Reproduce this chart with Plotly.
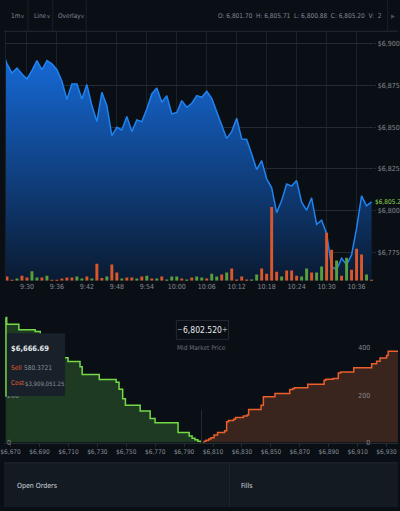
import plotly.graph_objects as go
import pandas as pd

# ---------------- data ----------------
price_times = pd.date_range("2018-06-20 09:25", "2018-06-20 10:39", freq="1min")
price = [6897, 6888, 6882.6, 6885.5, 6882, 6879, 6884, 6890, 6884.5, 6890,
         6888, 6884.5, 6877.6, 6866.7, 6876, 6876, 6867, 6875.6, 6863, 6853.4,
         6871, 6863, 6845, 6850, 6848.4, 6856.4, 6847.4, 6854.4, 6853.4, 6861,
         6870, 6873.6, 6865, 6869, 6858, 6858.8, 6866, 6862, 6864.3, 6869,
         6868, 6871.6, 6867.3, 6859.3, 6851.2, 6843.3, 6847.4, 6855.4, 6843, 6842.7,
         6834, 6824.6, 6830, 6819, 6813.7, 6798.8, 6806, 6816, 6814.7, 6818,
         6805, 6800.2, 6807.7, 6791.7, 6794.2, 6786.3, 6766.5, 6764.5, 6771.4, 6767.4,
         6773.4, 6789.3, 6808.8, 6802.8, 6805.2]

volume_times = price_times[1:]
volume = [11, 2, 6, 13, 8, 24, 8, 8, 13, 2, 2, 6, 8, 8, 11, 6, 11, 6, 43, 7,
          11, 41, 21, 6, 8, 8, 6, 11, 13, 6, 6, 11, 3, 11, 11, 6, 3, 8, 11, 8,
          6, 18, 11, 16, 21, 31, 3, 11, 3, 3, 16, 31, 18, 186, 23, 11, 26, 26, 13, 11,
          31, 21, 21, 36, 121, 78, 51, 13, 58, 28, 81, 66, 16, 2]
volume_side = list("ddudduudud" "dddduudud" "dudduddudu" "duduuudud" "uuduud"
                   "uddddu" "uddddu" "dddu" "uduudd" "ududddud" "uuudu")

bid_price = [6666.6, 6667.3, 6675.7, 6687.0, 6690.5, 6694.0, 6697.5, 6700.5, 6702.9,
             6704.0, 6709.7, 6718.0, 6719.5, 6731.3, 6743.0, 6745.0, 6747.5, 6749.4,
             6759.6, 6766.5, 6769.9, 6785.8, 6793.5, 6795.5, 6797.5, 6799.5, 6801.2]
bid_qty = [529, 500, 477, 469, 452, 430, 405, 385, 365,
           358, 343, 320, 288, 266, 255, 225, 185, 158,
           133, 102, 84, 42, 28, 18, 12, 5, 0]

ask_price = [6802.8, 6804.0, 6805.1, 6807.0, 6808.5, 6810.7, 6813.1, 6818.0, 6819.4,
             6820.7, 6824.2, 6825.5, 6831.0, 6833.5, 6834.6, 6843.2, 6844.8, 6852.8,
             6863.0, 6865.2, 6866.4, 6875.5, 6886.8, 6888.0, 6893.0, 6896.6, 6898.2,
             6907.3, 6919.7, 6923.1, 6925.5, 6930.0, 6931.1, 6938.0]
ask_qty = [0, 5, 10, 15, 20, 32, 42, 50, 88,
           93, 98, 106, 112, 116, 140, 158, 193, 207,
           224, 228, 232, 246, 263, 267, 271, 294, 298,
           316, 333, 344, 357, 368, 386, 386]

mid_price = 6802.520
last_price = 6805.2

# ---------------- helpers ----------------
W, H = 400, 511
def px(x):
    return x / W
def py(y):
    return 1 - y / H

BG = "#0a0f16"
GRID = "#252b33"
TXT = "#838991"
FONT = "Liberation Sans Narrow, Arial Narrow, DejaVu Sans Condensed, Roboto, sans-serif"
UP = "#5a9e3b"
DOWN = "#d9572a"

fig = go.Figure()

fig.add_trace(go.Scatter(
    x=price_times, y=price, mode="lines",
    line=dict(color="#1f83f0", width=1.5),
    fill="tozeroy",
    fillgradient=dict(type="vertical",
                      colorscale=[[0, "#0a1a31"], [1, "#166ad8"]],
                      start=6757.9, stop=6893),
    xaxis="x", yaxis="y", hoverinfo="skip"))

fig.add_trace(go.Bar(
    x=volume_times, y=volume,
    marker=dict(color=[UP if s == "u" else DOWN for s in volume_side], line=dict(width=0)),
    width=35000, xaxis="x", yaxis="y2", hoverinfo="skip"))

fig.add_trace(go.Scatter(
    x=bid_price, y=bid_qty, mode="lines", line_shape="hv",
    line=dict(color="#74d945", width=1.5), fill="tozeroy", fillcolor="#1e3a22",
    xaxis="x2", yaxis="y3", hoverinfo="skip"))

fig.add_trace(go.Scatter(
    x=ask_price, y=ask_qty, mode="lines", line_shape="hv",
    line=dict(color="#ea5f2c", width=1.5), fill="tozeroy", fillcolor="#3a241e",
    xaxis="x2", yaxis="y4", hoverinfo="skip"))

tick_font = dict(family=FONT, size=7, color=TXT)

fig.update_layout(
    width=W, height=H, margin=dict(l=0, r=0, t=0, b=0),
    paper_bgcolor=BG, plot_bgcolor=BG, showlegend=False, hovermode=False,
    font=dict(family=FONT, color=TXT),
    xaxis=dict(type="date", domain=[px(2), px(375)], anchor="y",
               range=["2018-06-20 09:25:48", "2018-06-20 10:39:22"],
               tickformat="%-H:%M", dtick=360000, tick0="2018-06-20 09:30",
               showgrid=True, gridcolor="#1b2128", gridwidth=1, zeroline=False,
               showline=False, ticks="", tickfont=tick_font),
    yaxis=dict(domain=[py(283), py(32)], anchor="x", side="right",
               range=[6757.9, 6907.3], tickprefix="$", tickformat=",.0f",
               dtick=25, tick0=6775, showgrid=True, gridcolor=GRID, zeroline=False,
               ticks="outside", ticklen=2, tickcolor=GRID, tickfont=tick_font),
    yaxis2=dict(overlaying="y", range=[0, 627.5], visible=False),
    xaxis2=dict(domain=[0, 1], anchor="y3", range=[6665.44, 6937.9],
                tickprefix="$", tickformat=",.0f", dtick=20, tick0=6670,
                showgrid=False, zeroline=False, showline=True, linecolor=GRID,
                ticks="outside", ticklen=3, tickcolor=GRID,
                ticklabeloverflow="allow",
                tickfont=dict(family=FONT, size=6.5, color=TXT)),
    yaxis3=dict(domain=[py(446), py(303)], anchor="x2", side="left",
                range=[0, 600], tickvals=[0, 200], ticklabelposition="inside",
                ticklabeloverflow="allow",
                showgrid=False, zeroline=False, ticks="", tickfont=tick_font),
    yaxis4=dict(overlaying="y3", side="right", range=[0, 600],
                tickvals=[0, 200, 400], ticklabelposition="inside",
                ticklabeloverflow="allow",
                showgrid=False, zeroline=False, ticks="", tickfont=tick_font),
)

shapes = []
annos = []

def hline(x0, x1, y, color, w=1):
    shapes.append(dict(type="line", xref="paper", yref="paper",
                       x0=px(x0), x1=px(x1), y0=py(y), y1=py(y),
                       line=dict(color=color, width=w)))

def vline(x, y0, y1, color, w=1):
    shapes.append(dict(type="line", xref="paper", yref="paper",
                       x0=px(x), x1=px(x), y0=py(y0), y1=py(y1),
                       line=dict(color=color, width=w)))

def rect(x0, y0, x1, y1, fill, line=None, layer="above"):
    shapes.append(dict(type="rect", xref="paper", yref="paper",
                       x0=px(x0), x1=px(x1), y0=py(y1), y1=py(y0),
                       fillcolor=fill, layer=layer,
                       line=dict(color=line or "rgba(0,0,0,0)", width=1 if line else 0)))

def text(x, y, s, size=8, color=TXT, xanchor="left", bold=False):
    annos.append(dict(xref="paper", yref="paper", x=px(x), y=py(y), text=s,
                      showarrow=False, xanchor=xanchor, yanchor="middle",
                      borderpad=0,
                      font=dict(family=FONT, size=size, color=color,
                                weight="bold" if bold else "normal")))

# header
hline(0, 400, 31.5, "#262c35")
for xv in (24.5, 49.5, 83.5):
    vline(xv, 0, 31, "#1b2129")
vline(389.5, 0, 31, "#1b2129")
text(6, 16, "1m", 6.5)
text(16, 16, "v", 5.5)
text(29, 16, "Line", 6.5)
text(42.5, 16, "v", 5.5)
text(54, 16, "Overlay", 6.5)
text(77.5, 16, "v", 5.5)
text(385, 16, "O: 6,801.70 &nbsp;H: 6,805.71 &nbsp;L: 6,800.88 &nbsp;C: 6,805.20 &nbsp;V: &nbsp;2",
     6.5, TXT, "right")
text(392, 16, "▶", 5.5, "#4a5058")

# chart left border
vline(1.5, 32, 283, "#1b2129")

# last price label
text(375.5, 204, "$6,805.2", 6.5, "#8fd652")

# mid market price box
rect(175, 323, 228, 342, "rgba(0,0,0,0)", "#242a32")
text(178.5, 332.5, "−", 7.5, "#aab0b6", "center")
text(224.5, 332.5, "+", 7.5, "#aab0b6", "center")
text(201.5, 332.5, "6,802.520", 8.5, "#e8eaec", "center")
text(201, 351, "Mid Market Price", 6.5, "#6c727a", "center")

# mid line in depth
vline(200.5, 413, 446, "#262c34")
# hover crosshair on bids
vline(2, 320, 400, "#74d945", 1.5)

# tooltip
rect(3, 336, 62, 399, "#18202a")
text(6, 351.5, "$6,666.69", 7.5, "#e6e8ea", bold=True)
text(6, 370.5, "Sell", 6.5, "#e0602c")
text(19, 370.5, "580.3721", 6.5, "#8c9298")
text(6, 386.5, "Cost", 6.5, "#e0602c")
text(20, 386.5, "$3,909,051.25", 6, "#8c9298")

# bottom panels
rect(0, 466, 400, 511, "#131a22", layer="above")
hline(0, 400, 466.5, "#1f262f")
vline(229, 466, 511, "#1f262f")
text(12, 490, "Open Orders", 7, "#d4d8dc")
text(240, 490, "Fills", 7, "#d4d8dc")

fig.update_layout(shapes=shapes, annotations=annos)

fig.write_html("out.html")
